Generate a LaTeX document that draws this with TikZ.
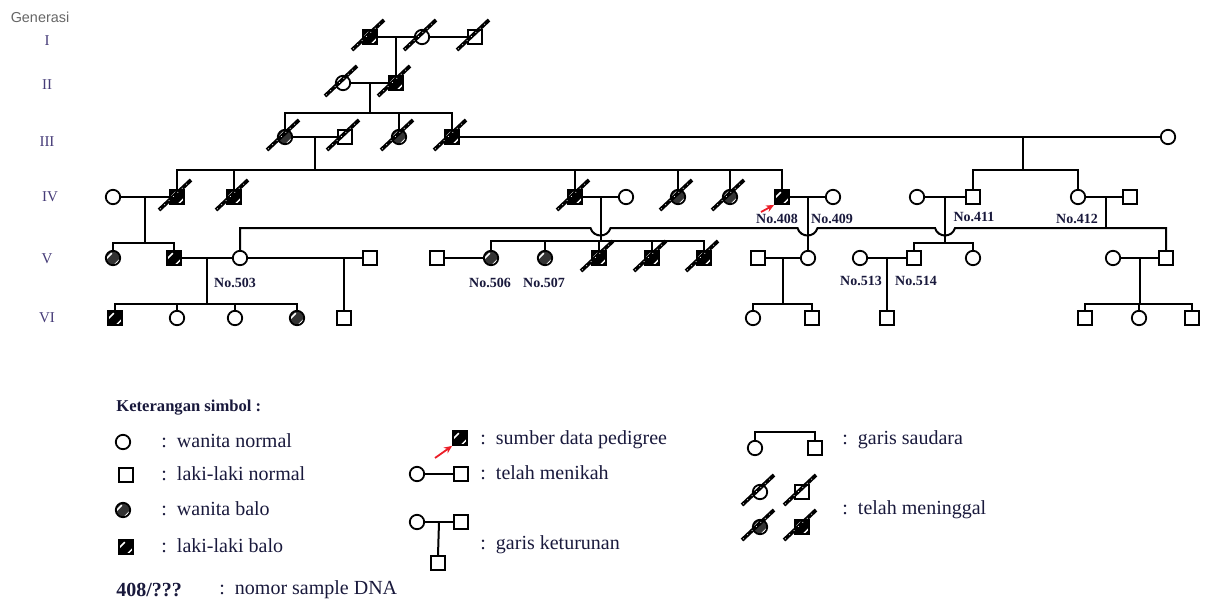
\documentclass[tikz,border=0pt]{standalone}
\usepackage{fontspec}
\setmainfont{Liberation Serif}
\newfontfamily\gsans{Liberation Sans}
\usetikzlibrary{calc,arrows.meta}
\definecolor{txt}{RGB}{25,25,60}
\definecolor{rom}{RGB}{70,60,120}
\definecolor{prob}{RGB}{235,30,40}
\newcommand\mydeadslash[1]{%
  \draw[line width=1.9pt,black] ([shift={(-9pt,-6.5pt)}]#1.center) -- ([shift={(7pt,8.5pt)}]#1.center);
  \draw[line width=0.35pt,white,dash pattern=on 0.4pt off 2.6pt] ([shift={(-8.5pt,-6pt)}]#1.center) -- ([shift={(6.5pt,8pt)}]#1.center);}
\begin{document}
\begin{tikzpicture}[x=0.5pt,y=-0.5pt,
  every node/.style={inner sep=0pt},
  ml/.style={draw=black, line width=0.9pt, rectangle, minimum size=7pt, fill=white},
  fl/.style={draw=black, line width=0.9pt, circle, minimum size=7.2pt, fill=white},
  stripes/.style={path picture={\draw[white,line width=0.75pt]
      ([shift={(-3.6pt,-0.6pt)}]path picture bounding box.center) -- ++(3pt,3pt)
      ([shift={(0.6pt,-3.6pt)}]path picture bounding box.center) -- ++(3pt,3pt);}},
  affm/.style={ml, fill=black, stripes},
  afff/.style={fl, fill=black!80, stripes},
  ln/.style={line width=1pt, black},
  romlab/.style={font=\fontsize{7.5}{8}\selectfont, text=rom},
  nolab/.style={font=\bfseries\fontsize{7}{8}\selectfont, text=txt},
  leg/.style={font=\fontsize{10}{12}\selectfont, text=txt, anchor=west},
  pa/.style={draw=prob, line width=0.9pt, -{Stealth[length=4pt,width=3.5pt]}}
]
\useasboundingbox (0,0) rectangle (1208,600);

% generation labels
\node[font=\gsans\fontsize{7.2}{8}\selectfont, text=black!60] (gen) at (40,17) {Generasi};
\node[romlab] (gI) at (47,41) {I};
\node[romlab] (gII) at (47,85) {II};
\node[romlab] (gIII) at (47,142) {III};
\node[romlab] (gIV) at (50,197) {IV};
\node[romlab] (gV) at (47,259) {V};
\node[romlab] (gVI) at (47,318) {VI};

% Generation I
\node[affm] (I1) at (370,37) {};
\node[fl] (I2) at (422,37) {};
\node[ml] (I3) at (475,37) {};
% Generation II
\node[fl] (II1) at (343,83) {};
\node[affm] (II2) at (396,83) {};
% Generation III
\node[afff] (III1) at (285,137) {};
\node[ml] (III2) at (345,137) {};
\node[afff] (III3) at (399,137) {};
\node[affm] (III4) at (452,137) {};
\node[fl] (III5) at (1168,137) {};
% Generation IV
\node[fl] (IV1) at (113,197) {};
\node[affm] (IV2) at (177,197) {};
\node[affm] (IV3) at (234,197) {};
\node[affm] (IV4) at (575,197) {};
\node[fl] (IV5) at (626,197) {};
\node[afff] (IV6) at (678,197) {};
\node[afff] (IV7) at (730,197) {};
\node[affm] (IV8) at (782,197) {};
\node[fl] (IV9) at (833,197) {};
\node[fl] (IV10) at (917,197) {};
\node[ml] (IV11) at (973,197) {};
\node[fl] (IV12) at (1078,197) {};
\node[ml] (IV13) at (1130,197) {};
% Generation V
\node[afff] (V1) at (113,258) {};
\node[affm] (V2) at (174,258) {};
\node[fl] (V3) at (240,258) {};
\node[ml] (V4) at (370,258) {};
\node[ml] (V5) at (437,258) {};
\node[afff] (V6) at (491,258) {};
\node[afff] (V7) at (545,258) {};
\node[affm] (V8) at (599,258) {};
\node[affm] (V9) at (652,258) {};
\node[affm] (V10) at (704,258) {};
\node[ml] (V11) at (758,258) {};
\node[fl] (V12) at (808,258) {};
\node[fl] (V13) at (860,258) {};
\node[ml] (V14) at (914,258) {};
\node[fl] (V15) at (973,258) {};
\node[fl] (V16) at (1113,258) {};
\node[ml] (V17) at (1166,258) {};
% Generation VI
\node[affm] (VIa) at (115,318) {};
\node[fl] (VIb) at (177,318) {};
\node[fl] (VIc) at (235,318) {};
\node[afff] (VId) at (297,318) {};
\node[ml] (VIe) at (344,318) {};
\node[fl] (VIf) at (753,318) {};
\node[ml] (VIg) at (812,318) {};
\node[ml] (VIh) at (887,318) {};
\node[ml] (VIi) at (1085,318) {};
\node[fl] (VIj) at (1139,318) {};
\node[ml] (VIk) at (1192,318) {};

% helper y levels
\coordinate (s2) at (0,113);
\coordinate (s4) at (0,170);
\coordinate (s5a) at (0,243);
\coordinate (s5b) at (0,241);
\coordinate (s5c) at (0,243);
\coordinate (h) at (0,228);
\coordinate (s6) at (0,304);

% I
\draw[ln] (I1) -- (I2);
\draw[ln] (I2) -- (I3);
\coordinate (mI) at ($(I1)!0.5!(I2)$);
\draw[ln] (mI) -- (II2.north);
% II
\draw[ln] (II1) -- (II2);
\coordinate (mII) at ($(II1)!0.5!(II2)$);
\draw[ln] (mII) -- (mII |- s2);
\draw[ln] (III1.north) |- (III4 |- s2) -- (III4.north);
\draw[ln] (III3.north) -- (III3 |- s2);
% III
\draw[ln] (III1) -- (III2);
\coordinate (mIII) at ($(III1)!0.5!(III2)$);
\draw[ln] (mIII) -- (mIII |- s4);
\draw[ln] (III4) -- (III5);
\coordinate (mIIIb) at (1023,137);
\draw[ln] (mIIIb) -- (mIIIb |- s4);
\draw[ln] (IV2.north) |- (IV8 |- s4) -- (IV8.north);
\foreach \c in {IV3,IV4,IV6,IV7} {\draw[ln] (\c.north) -- (\c |- s4);}
\draw[ln] (IV11.north) |- (IV12 |- s4) -- (IV12.north);
% IV
\draw[ln] (IV1) -- (IV2);
\coordinate (mIVa) at ($(IV1)!0.5!(IV2)$);
\draw[ln] (mIVa) -- (mIVa |- s5a);
\draw[ln] (V1.north) |- (V2 |- s5a) -- (V2.north);
\draw[ln] (IV4) -- (IV5);
\coordinate (mIVb) at ($(IV4)!0.5!(IV5)$);
\draw[ln] (mIVb) -- (mIVb |- s5b);
\draw[ln] (V6.north) |- (V10 |- s5b) -- (V10.north);
\foreach \c in {V7,V8,V9} {\draw[ln] (\c.north) -- (\c |- s5b);}
\draw[ln] (IV8) -- (IV9);
\coordinate (mIVc) at ($(IV8)!0.5!(IV9)$);
\draw[ln] (mIVc) -- (mIVc |- V12.north);
\draw[ln] (IV10) -- (IV11);
\coordinate (mIVd) at ($(IV10)!0.5!(IV11)$);
\draw[ln] (mIVd) -- (mIVd |- s5c);
\draw[ln] (V14.north) |- (V15 |- s5c) -- (V15.north);
\draw[ln] (IV12) -- (IV13);
\coordinate (mIVe) at (1106,197);
\draw[ln] (mIVe) -- (mIVe |- h);
% long sibship line with line jumps
\draw[ln] (V3.north) |- ($(mIVb |- h)+(-10,0)$)
  .. controls +(3,10) and +(-3,10) .. ($(mIVb |- h)+(10,0)$)
  -- ($(mIVc |- h)+(-10,0)$)
  .. controls +(3,10) and +(-3,10) .. ($(mIVc |- h)+(10,0)$)
  -- ($(mIVd |- h)+(-10,0)$)
  .. controls +(3,10) and +(-3,10) .. ($(mIVd |- h)+(10,0)$)
  -| (V17.north);
% V
\draw[ln] (V2) -- (V3);
\coordinate (mVa) at ($(V2)!0.5!(V3)$);
\draw[ln] (mVa) -- (mVa |- s6);
\draw[ln] (VIa.north) |- (VId |- s6) -- (VId.north);
\foreach \c in {VIb,VIc} {\draw[ln] (\c.north) -- (\c |- s6);}
\draw[ln] (V3) -- (V4);
\coordinate (mVb) at (344,258);
\draw[ln] (mVb) -- (VIe.north);
\draw[ln] (V5) -- (V6);
\draw[ln] (V11) -- (V12);
\coordinate (mVc) at ($(V11)!0.5!(V12)$);
\draw[ln] (mVc) -- (mVc |- s6);
\draw[ln] (VIf.north) |- (VIg |- s6) -- (VIg.north);
\draw[ln] (V13) -- (V14);
\coordinate (mVd) at ($(V13)!0.5!(V14)$);
\draw[ln] (mVd) -- (VIh.north);
\draw[ln] (V16) -- (V17);
\coordinate (mVe) at ($(V16)!0.5!(V17)$);
\draw[ln] (mVe) -- (mVe |- s6);
\draw[ln] (VIi.north) |- (VIk |- s6) -- (VIk.north);
\draw[ln] (VIj.north) -- (VIj |- s6);

% deceased
\foreach \n in {I1,I2,I3,II1,II2,III1,III2,III3,III4,IV2,IV3,IV4,IV6,IV7,V8,V9,V10} {\mydeadslash{\n}}

% proband arrow
\coordinate (pa0) at ([shift={(-10.5pt,-7.5pt)}]IV8.center);
\draw[pa] (pa0) -- (IV8.south west);

% sample labels
\node[nolab] (n408) at (777,219) {No.408};
\node[nolab] (n409) at (832,219) {No.409};
\node[nolab] (n411) at (974,217) {No.411};
\node[nolab] (n412) at (1077,219) {No.412};
\node[nolab] (n503) at (235,283) {No.503};
\node[nolab] (n506) at (490,283) {No.506};
\node[nolab] (n507) at (544,283) {No.507};
\node[nolab] (n513) at (861,281) {No.513};
\node[nolab] (n514) at (916,281) {No.514};

% legend
\node[font=\bfseries\fontsize{8.3}{10}\selectfont, text=txt, anchor=west] (kt) at (116,408) {Keterangan simbol :};
\node[fl] (L1) at (123,442) {};
\node[leg] (L1t) at (161,441) {:\ \ wanita normal};
\node[ml] (L2) at (126,475) {};
\node[leg] (L2t) at (161,474) {:\ \ laki-laki normal};
\node[afff] (L3) at (123,510) {};
\node[leg] (L3t) at (161,509) {:\ \ wanita balo};
\node[affm] (L4) at (126,547) {};
\node[leg] (L4t) at (161,546) {:\ \ laki-laki balo};
\node[font=\bfseries\fontsize{10}{12}\selectfont, text=txt, anchor=west] (L5) at (116,590) {408/???};
\node[leg] (L5t) at (219,590) {:\ \ nomor sample DNA};

\node[affm] (M1) at (460,438) {};
\coordinate (M1a) at ([shift={(-12.5pt,-10pt)}]M1.center);
\draw[pa] (M1a) -- (M1.south west);
\node[leg] (M1t) at (480,440) {:\ \ sumber data pedigree};
\node[fl] (M2a) at (417,474) {};
\node[ml] (M2b) at (461,474) {};
\draw[ln] (M2a) -- (M2b);
\node[leg] (M2t) at (480,473) {:\ \ telah menikah};
\node[fl] (M3a) at (417,522) {};
\node[ml] (M3b) at (461,522) {};
\node[ml] (M3c) at (438,563) {};
\draw[ln] (M3a) -- (M3b);
\coordinate (mM3) at ($(M3a)!0.5!(M3b)$);
\draw[ln] (mM3) -- (M3c.north);
\node[leg] (M3t) at (480,545) {:\ \ garis keturunan};

\node[fl] (R1a) at (755,448) {};
\node[ml] (R1b) at (815,448) {};
\coordinate (sR) at (0,432);
\draw[ln] (R1a.north) |- (R1b |- sR) -- (R1b.north);
\node[leg] (R1t) at (842,440) {:\ \ garis saudara};
\node[fl] (R2a) at (760,492) {};
\node[ml] (R2b) at (802,492) {};
\node[afff] (R2c) at (760,527) {};
\node[affm] (R2d) at (802,527) {};
\foreach \n in {R2a,R2b,R2c,R2d} {\mydeadslash{\n}}
\node[leg] (R2t) at (842,510) {:\ \ telah meninggal};
\end{tikzpicture}
\end{document}
